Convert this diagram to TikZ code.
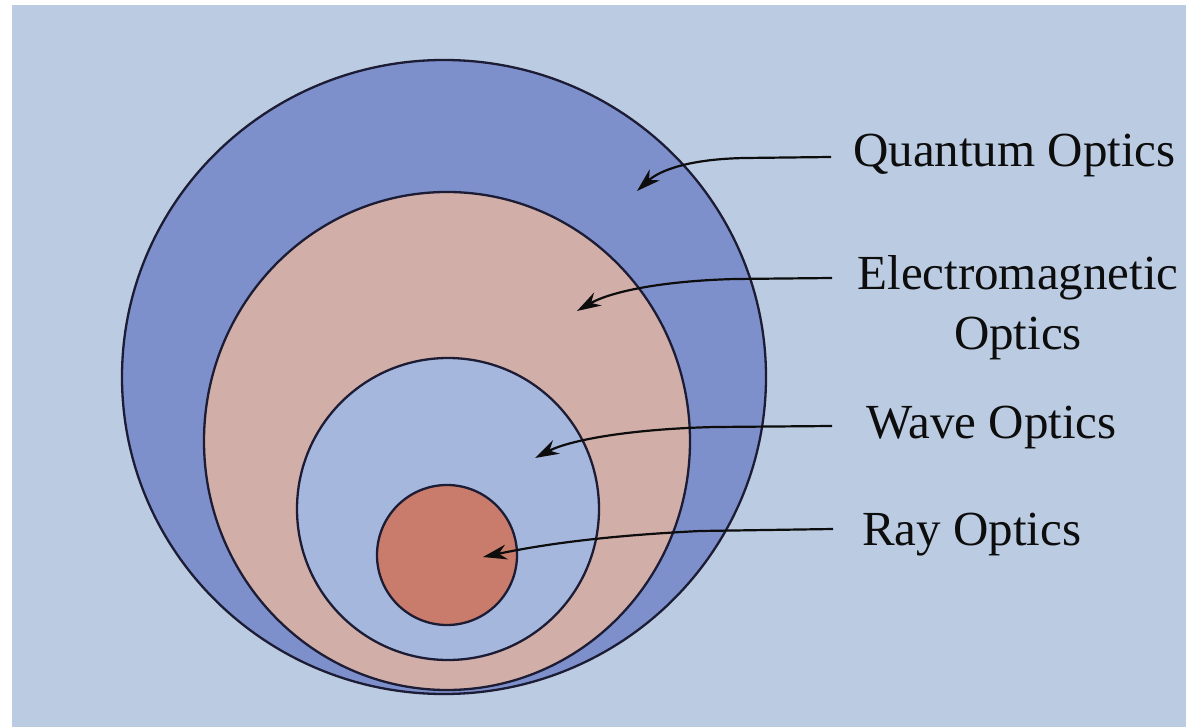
\documentclass[tikz,border=0pt]{standalone}
\usepackage{fontspec}
\setmainfont{Liberation Serif}
\usetikzlibrary{arrows.meta}
\definecolor{paper}{HTML}{BACBE2}
\definecolor{quantumc}{HTML}{7E90CC}
\definecolor{emc}{HTML}{D2AEA8}
\definecolor{wavec}{HTML}{A6B7DE}
\definecolor{rayc}{HTML}{C97C6C}
\definecolor{rim}{HTML}{1C1C34}
\tikzset{
  ring/.style={draw=rim, line width=2.3pt},
  pointer/.style={draw=black!95, line width=2.2pt, -{Stealth[length=24pt,width=15pt]}},
  lab/.style={inner sep=0pt, font=\fontsize{49}{60}\selectfont, text=black!95}
}
\begin{document}
\begin{tikzpicture}[x=1pt,y=-1pt]
\useasboundingbox (0,0) rectangle (1186,727);
\fill[white] (0,0) rectangle (1186,727);
\fill[paper] (12,5) rectangle (1186,727);
% nested regions
\path[ring, fill=quantumc] (444,377) ellipse [x radius=322, y radius=317];
\path[ring, fill=emc] (447,441) ellipse [x radius=243, y radius=249];
\path[ring, fill=wavec] (448,509) circle [radius=151];
\path[ring, fill=rayc] (447,555) circle [radius=70];
% labels
\node[lab, anchor=base west] (qlab) at (853,167) {Quantum Optics};
\node[lab, anchor=base] (elab) at (1018,290) {\begin{tabular}[t]{@{}c@{}}Electromagnetic\\Optics\end{tabular}};
\node[lab, anchor=base west] (wlab) at (866,438) {Wave Optics};
\node[lab, anchor=base west] (rlab) at (862,545) {Ray Optics};
% arrow ends
\coordinate (qs) at (831,157);
\coordinate (qt) at (637,191);
\coordinate (es) at (832,278);
\coordinate (et) at (577,311);
\coordinate (ws) at (832,426);
\coordinate (wt) at (535,458);
\coordinate (rs) at (833,529);
\coordinate (rt) at (483,557);
% pointers
\draw[pointer] (qs) -- (745,158) .. controls (690,159) and (660,170) .. (qt);
\draw[pointer] (es) -- (735,279) .. controls (660,281) and (610,292) .. (et);
\draw[pointer] (ws) -- (715,427) .. controls (630,429) and (570,440) .. (wt);
\draw[pointer] (rs) -- (700,531) .. controls (600,536) and (540,545) .. (rt);
\end{tikzpicture}
\end{document}
